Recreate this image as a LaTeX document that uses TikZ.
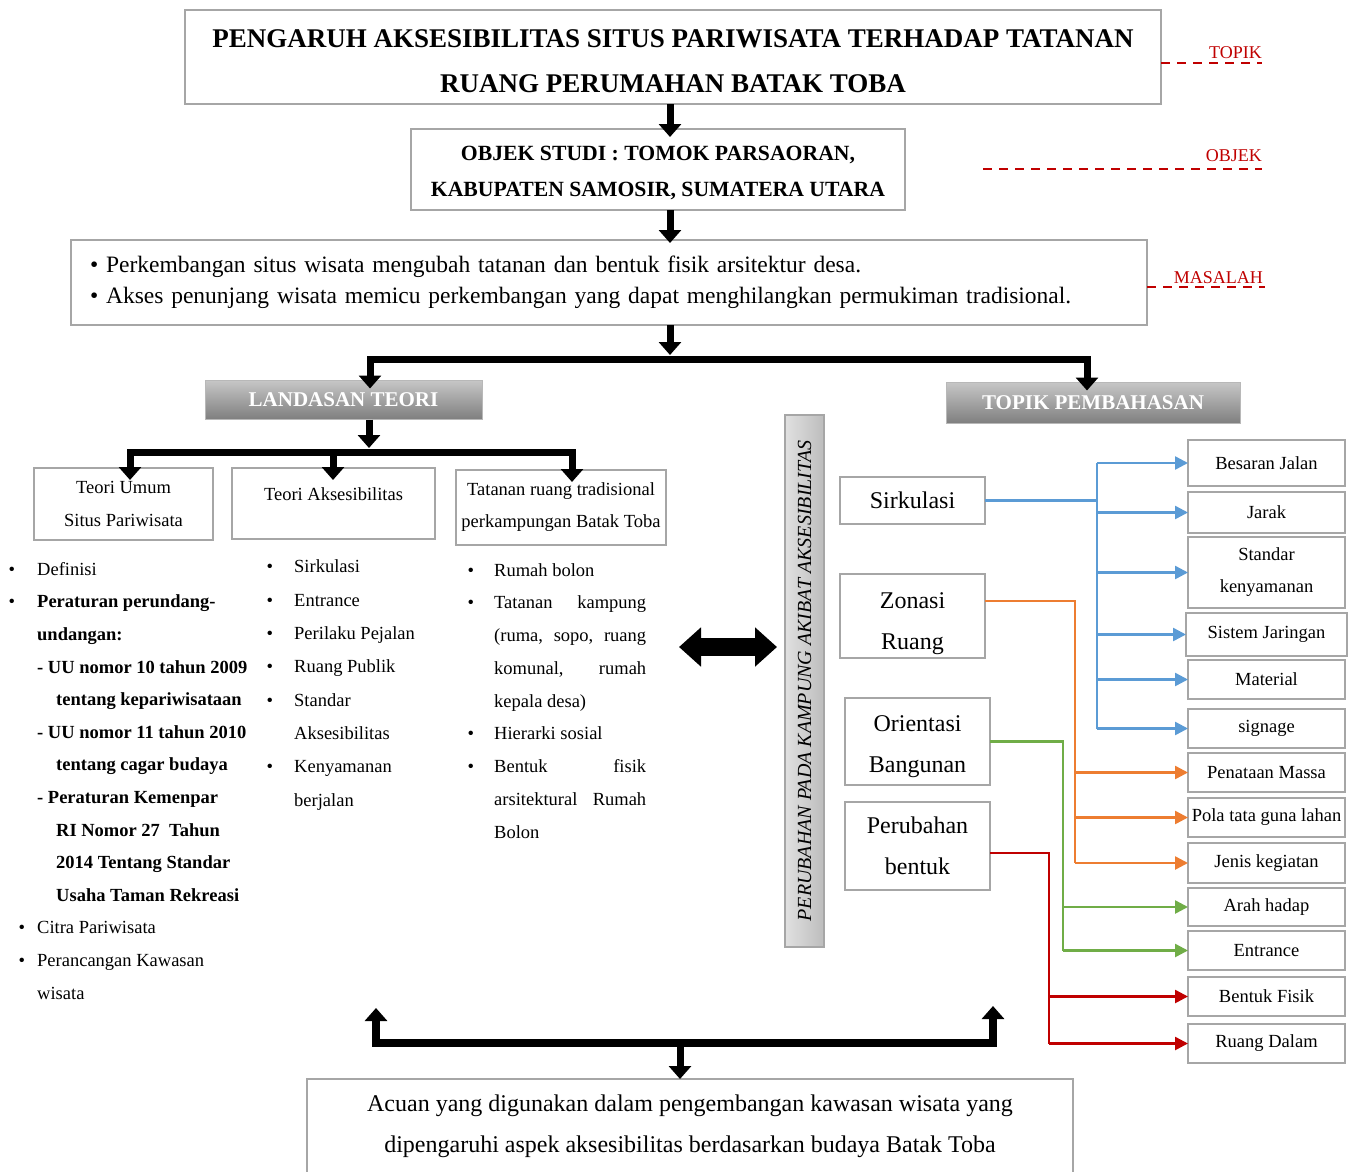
\documentclass[tikz,border=0pt]{standalone}
\usepackage{fontspec}
\setmainfont{Liberation Serif}
\usetikzlibrary{arrows.meta, positioning}
\definecolor{boxgray}{HTML}{A6A6A6}
\definecolor{cblue}{HTML}{5B9BD5}
\definecolor{corange}{HTML}{ED7D31}
\definecolor{cgreen}{HTML}{70AD47}
\definecolor{cred}{HTML}{C00000}
\newcommand{\itm}[1]{\llap{\textbullet\hspace{#1pt}}}

\begin{document}
\begin{tikzpicture}[x=1pt, y=-1pt,
  block/.style={rectangle, draw=boxgray, line width=2.5pt, fill=white, inner sep=0pt, outer sep=0pt, align=center},
  headbox/.style={rectangle, draw=boxgray!80, line width=1pt, top color=black!22, bottom color=black!50, text=white, inner sep=0pt, font=\fontsize{21}{24}\selectfont\bfseries},
  subbox/.style={block, minimum width=157pt, font=\fontsize{18.5}{32}\selectfont},
  aspbox/.style={block, minimum width=145pt, font=\fontsize{24}{41}\selectfont},
  listtext/.style={anchor=base west, inner sep=0pt, align=left},
  heavy/.style={line width=7pt, -{Triangle[width=22pt,length=13pt]}},
  bline/.style={draw=cblue, line width=2.5pt},
  oline/.style={draw=corange, line width=2.5pt},
  gline/.style={draw=cgreen, line width=2.5pt},
  rline/.style={draw=cred, line width=2.5pt},
  tip/.style={-{Triangle[width=13pt,length=13pt]}},
  reddash/.style={draw=cred, line width=2.5pt, dash pattern=on 9pt off 7pt},
  redlbl/.style={text=cred, anchor=base east, inner sep=0pt, font=\fontsize{18}{20}\selectfont}]

\fill[white] (0,0) rectangle (1354,1172);
\useasboundingbox (0,0) rectangle (1354,1172);

% top part
\node[block, minimum width=976pt, minimum height=94pt, text height=71pt, text depth=0pt, font=\fontsize{27}{45}\selectfont\bfseries] (title) at (673,57) {PENGARUH AKSESIBILITAS SITUS PARIWISATA TERHADAP TATANAN\\RUANG PERUMAHAN BATAK TOBA};
\node[block, minimum width=494pt, minimum height=81pt, text height=54pt, text depth=0pt, font=\fontsize{21.7}{36}\selectfont\bfseries] (objek) at (658,169.5) {OBJEK STUDI : TOMOK PARSAORAN,\\KABUPATEN SAMOSIR, SUMATERA UTARA};
\node[block, minimum width=1076pt, minimum height=85pt, text width=1038pt, align=left, font=\fontsize{23.5}{31}\selectfont] (masalah) at (609,282.5) {\textbullet\ Perkembangan situs wisata mengubah tatanan dan bentuk fisik arsitektur desa.\\\textbullet\ Akses penunjang wisata memicu perkembangan yang dapat menghilangkan permukiman tradisional.};

\node[redlbl] (ltopik) at (1262,59) {TOPIK};
\node[redlbl] (lobjek) at (1262,161) {OBJEK};
\node[redlbl] (lmasalah) at (1263,283) {MASALAH};
\coordinate (dtopik) at (1262,63);
\coordinate (dobjek1) at (983,169);
\coordinate (dobjek2) at (1262,169);
\coordinate (dmasalah) at (1265,287);
\draw[reddash] (title.east |- dtopik) -- (dtopik);
\draw[reddash] (dobjek1) -- (dobjek2);
\draw[reddash] (masalah.east |- dmasalah) -- (dmasalah);

\node[headbox, minimum width=277pt, minimum height=39pt] (lt) at (343.5,399.5) {LANDASAN TEORI};
\node[headbox, minimum width=294pt, minimum height=41pt] (tp) at (1093,402.5) {TOPIK PEMBAHASAN};

% landasan teori
\node[block, minimum width=179pt, minimum height=72pt, font=\fontsize{18.5}{33}\selectfont] (tu) at (123.5,504) {Teori Umum\\Situs Pariwisata};
\node[block, minimum width=203pt, minimum height=71pt, text height=13pt, text depth=20pt, font=\fontsize{18.5}{33}\selectfont] (ta) at (333.5,503.5) {Teori Aksesibilitas};
\node[block, minimum width=210pt, minimum height=75pt, font=\fontsize{18.5}{32}\selectfont] (tt) at (561,507.5) {Tatanan ruang tradisional\\perkampungan Batak Toba};

\node[listtext, font=\fontsize{18.5}{32.6}\selectfont] (lst1) at (37,999) {\itm{22}Definisi\\
\itm{22}\textbf{Peraturan perundang-}\\
\textbf{undangan:}\\
\textbf{- UU nomor 10 tahun 2009}\\
\hspace*{19pt}\textbf{tentang kepariwisataan}\\
\textbf{- UU nomor 11 tahun 2010}\\
\hspace*{19pt}\textbf{tentang cagar budaya}\\
\textbf{- Peraturan Kemenpar}\\
\hspace*{19pt}\textbf{RI Nomor 27\ \ Tahun}\\
\hspace*{19pt}\textbf{2014 Tentang Standar}\\
\hspace*{19pt}\textbf{Usaha Taman Rekreasi}\\
\itm{12}Citra Pariwisata\\
\itm{12}Perancangan Kawasan\\
wisata};
\node[listtext, font=\fontsize{18.5}{33.3}\selectfont] (lst2) at (294,806) {\itm{21}Sirkulasi\\
\itm{21}Entrance\\
\itm{21}Perilaku Pejalan\\
\itm{21}Ruang Publik\\
\itm{21}Standar\\
Aksesibilitas\\
\itm{21}Kenyamanan\\
berjalan};
\node[listtext, font=\fontsize{18.5}{32.75}\selectfont] (lst3) at (494,838) {\itm{20}Rumah bolon\\
\itm{20}\hbox to 152pt{Tatanan\hfill kampung}\\
\hbox to 152pt{(ruma,\hfill sopo,\hfill ruang}\\
\hbox to 152pt{komunal,\hfill rumah}\\
kepala desa)\\
\itm{20}Hierarki sosial\\
\itm{20}\hbox to 152pt{Bentuk\hfill fisik}\\
\hbox to 152pt{arsitektural\hfill Rumah}\\
Bolon};

% middle
\node[block, line width=1.5pt, left color=black!12, right color=black!26, rotate=90, minimum width=532pt, minimum height=39pt, font=\fontsize{20}{22}\selectfont\itshape] (pk) at (804.5,681) {PERUBAHAN PADA KAMPUNG AKIBAT AKSESIBILITAS};
\coordinate (dl) at (679,647);
\draw[line width=18pt, shorten >=8pt, {Triangle[width=38pt,length=22pt]}-{Triangle[width=38pt,length=22pt]}] (dl) -- (pk.north |- dl);

% topik pembahasan
\node[aspbox, minimum height=47pt] (sirk) at (912.5,500.5) {Sirkulasi};
\node[aspbox, minimum height=84pt, text height=71pt, text depth=5pt] (zr) at (912.5,616) {Zonasi\\Ruang};
\node[aspbox, minimum height=87pt, text height=67pt, text depth=5pt] (ob) at (917.5,741.5) {Orientasi\\Bangunan};
\node[aspbox, minimum height=88pt] (pb) at (917.5,846) {Perubahan\\bentuk};

\node[subbox, minimum height=46pt] (bj) at (1266.5,463) {Besaran Jalan};
\node[subbox, minimum height=41pt, below=6pt of bj] (jr) {Jarak};
\node[subbox, minimum height=71pt, below=4pt of jr] (sk) {Standar\\kenyamanan};
\node[subbox, minimum height=43pt, minimum width=161pt, below=5pt of sk] (sj) {Sistem Jaringan};
\node[subbox, minimum height=39pt, below=4pt of sj] (mt) {Material};
\node[subbox, minimum height=39pt, below=10pt of mt] (sg) {signage};
\node[subbox, minimum height=39pt, below=5pt of sg] (pm) {Penataan Massa};
\node[subbox, minimum height=39pt, below=6pt of pm] (pg) {Pola tata guna lahan};
\node[subbox, minimum height=40pt, below=6pt of pg] (jk) {Jenis kegiatan};
\node[subbox, minimum height=38pt, below=5pt of jk] (ah) {Arah hadap};
\node[subbox, minimum height=39pt, below=5pt of ah] (en) {Entrance};
\node[subbox, minimum height=39pt, below=7pt of en] (bf) {Bentuk Fisik};
\node[subbox, minimum height=39pt, below=8pt of bf] (rd) {Ruang Dalam};

\coordinate (bt) at (1097,0);
\coordinate (ot) at (1075,0);
\coordinate (gt) at (1063,0);
\coordinate (rt) at (1049,0);

\draw[bline] (sirk.east) -- (sirk.east -| bt);
\draw[bline] (bt |- bj.west) -- (bt |- sg.west);
\draw[bline, tip] (bt |- bj.west) -- (bj.west);
\draw[bline, tip] (bt |- jr.west) -- (jr.west);
\draw[bline, tip] (bt |- sk.west) -- (sk.west);
\draw[bline, tip] (bt |- sj.west) -- (sj.west);
\draw[bline, tip] (bt |- mt.west) -- (mt.west);
\draw[bline, tip] (bt |- sg.west) -- (sg.west);

\draw[oline] ([yshift=15pt]zr.east) -| (ot |- jk.west);
\draw[oline, tip] (ot |- pm.west) -- (pm.west);
\draw[oline, tip] (ot |- pg.west) -- (pg.west);
\draw[oline, tip] (ot |- jk.west) -- (jk.west);

\draw[gline] (ob.east) -| (gt |- en.west);
\draw[gline, tip] (gt |- ah.west) -- (ah.west);
\draw[gline, tip] (gt |- en.west) -- (en.west);

\draw[rline] ([yshift=-7pt]pb.east) -| (rt |- rd.west);
\draw[rline, tip] (rt |- bf.west) -- (bf.west);
\draw[rline, tip] (rt |- rd.west) -- (rd.west);

% bottom
\node[block, minimum width=766pt, minimum height=95pt, font=\fontsize{24}{41}\selectfont] (acuan) at (690,1126.5) {Acuan yang digunakan dalam pengembangan kawasan wisata yang\\dipengaruhi aspek aksesibilitas berdasarkan budaya Batak Toba};

% black arrows
\coordinate (ax) at (670,0);
\coordinate (j1) at (670,359);
\coordinate (c1) at (370,0);
\coordinate (c2) at (1087,0);
\coordinate (j2) at (369,452);
\coordinate (c3) at (130,0);
\coordinate (c4) at (333,0);
\coordinate (c5) at (572,0);
\coordinate (u1) at (376,1008);
\coordinate (u2) at (993,1006);
\coordinate (j3) at (680,1043);

\draw[heavy, shorten >=-8pt] (title.south -| ax) -- (objek.north -| ax);
\draw[heavy, shorten >=-3pt] (objek.south -| ax) -- (masalah.north -| ax);
\draw[heavy, shorten >=4pt] (masalah.south -| j1) -- (j1);
\draw[heavy, shorten >=-9pt] (j1) -| (lt.north -| c1);
\draw[heavy, shorten >=-9pt] (j1) -| (tp.north -| c2);
\draw[heavy, shorten >=4pt] (lt.south -| j2) -- (j2);
\draw[heavy, shorten >=-12pt] (j2) -| (tu.north -| c3);
\draw[heavy, shorten >=-12pt] (j2) -| (ta.north -| c4);
\draw[heavy, shorten >=-12pt] (j2) -| (tt.north -| c5);
\draw[line width=8pt, {Triangle[width=22pt,length=13pt]}-{Triangle[width=22pt,length=13pt]}] (u1) |- (j3) -| (u2);
\draw[heavy] (j3) -- (acuan.north -| j3);

\end{tikzpicture}
\end{document}
